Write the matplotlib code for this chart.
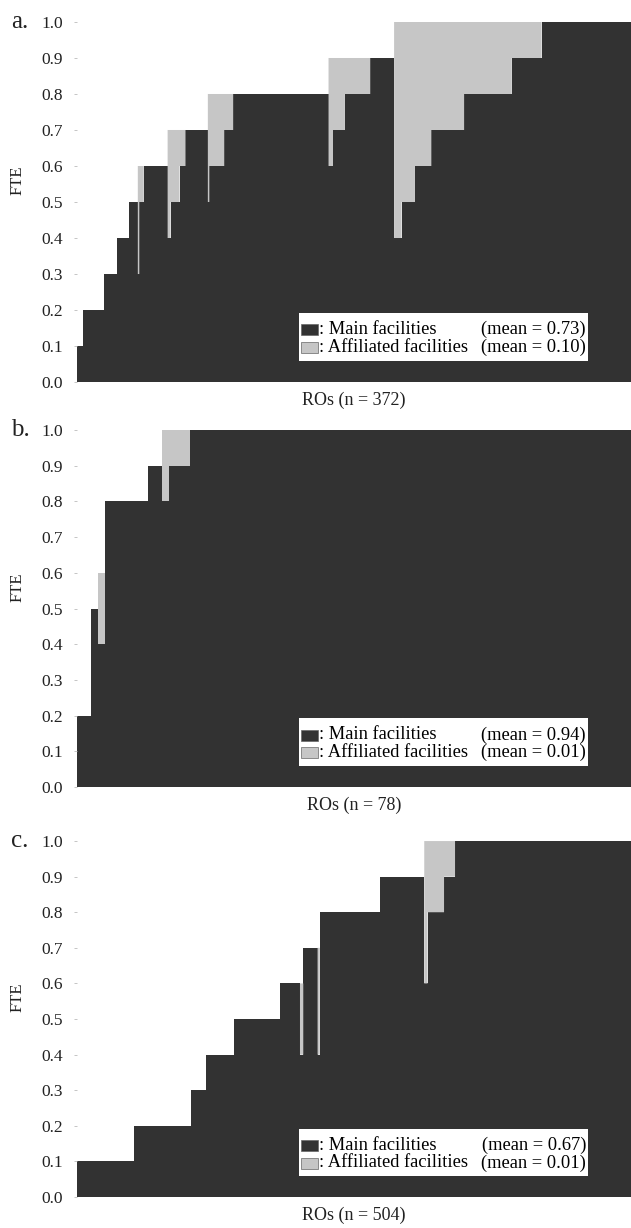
import matplotlib
matplotlib.use('Agg')
import matplotlib.pyplot as plt
from matplotlib.patches import Rectangle
import numpy as np

plt.rcParams['font.family'] = ['Liberation Serif', 'DejaVu Serif']

# ROs sorted by FTE, as runs: number of ROs, main FTE, affiliated FTE
n_a = [4, 14, 9, 8, 6, 1, 3, 16, 2, 6, 4, 15, 1, 10, 6, 64, 3, 8, 17, 16, 5, 9, 11, 22, 32, 20, 60]
main_a = [0.1, 0.2, 0.3, 0.4, 0.5, 0.3, 0.5, 0.6, 0.4, 0.5, 0.6, 0.7, 0.5, 0.6, 0.7, 0.8,
          0.6, 0.7, 0.8, 0.9, 0.4, 0.5, 0.6, 0.7, 0.8, 0.9, 1.0]
aff_a = [0, 0, 0, 0, 0, 0.3, 0.1, 0, 0.3, 0.2, 0.1, 0, 0.3, 0.2, 0.1, 0,
         0.3, 0.2, 0.1, 0, 0.6, 0.5, 0.4, 0.3, 0.2, 0.1, 0]

n_b = [2, 1, 1, 6, 2, 1, 3, 62]
main_b = [0.2, 0.5, 0.4, 0.8, 0.9, 0.8, 0.9, 1.0]
aff_b = [0, 0, 0.2, 0, 0, 0.2, 0.1, 0]

n_c = [52, 52, 14, 25, 42, 18, 3, 13, 2, 55, 40, 3, 15, 10, 160]
main_c = [0.1, 0.2, 0.3, 0.4, 0.5, 0.6, 0.4, 0.7, 0.4, 0.8, 0.9, 0.6, 0.8, 0.9, 1.0]
aff_c = [0, 0, 0, 0, 0, 0, 0.2, 0, 0.3, 0, 0, 0.4, 0.2, 0.1, 0]

panel_labels = ['a.', 'b.', 'c.']
mean_main = [0.73, 0.94, 0.67]
mean_aff = [0.10, 0.01, 0.01]
yticks = [0.0, 0.1, 0.2, 0.3, 0.4, 0.5, 0.6, 0.7, 0.8, 0.9, 1.0]

DARK = '#323232'
LIGHT = '#c6c6c6'

fig = plt.figure(figsize=(6.31, 12.28), dpi=100)
# axes boxes in figure fractions (left, bottom, width, height)
boxes = [[0.1216, 0.6889, 0.8784, 0.2932],
         [0.1216, 0.3591, 0.8784, 0.2907],
         [0.1216, 0.0252, 0.8784, 0.2899]]

data = [(n_a, main_a, aff_a), (n_b, main_b, aff_b), (n_c, main_c, aff_c)]

for k in range(3):
    counts, mains, affs = data[k]
    main = np.repeat(mains, counts)
    aff = np.repeat(affs, counts)
    n = len(main)
    edges = np.arange(n + 1)

    ax = fig.add_axes(boxes[k])
    ax.stairs(main, edges, baseline=0, fill=True, color=DARK, linewidth=0)
    ax.stairs(main + aff, edges, baseline=main, fill=True, color=LIGHT, linewidth=0)

    ax.set_xlim(0, n)
    ax.set_ylim(0, 1.0)
    for s in ax.spines.values():
        s.set_visible(False)
    ax.set_xticks([])
    ax.set_yticks(yticks)
    ax.set_yticklabels(['%.1f' % t for t in yticks])
    ax.tick_params(axis='y', length=2, width=0.6, color='#bbbbbb', pad=8,
                   labelsize=12.5, labelcolor='#222222')

    ax.text(-0.106, 0.56, 'FTE', transform=ax.transAxes, rotation=90,
            ha='center', va='center', fontsize=12, color='#222222')
    ax.text(-0.1185, 1.0, panel_labels[k], transform=ax.transAxes,
            ha='left', va='center', fontsize=18, color='#222222')
    ax.text(0.5, -0.052, 'ROs (n = %d)' % n, transform=ax.transAxes,
            ha='center', va='center', fontsize=13, color='#222222')

    # legend box drawn by hand
    ax.add_patch(Rectangle((0.401, 0.058), 0.521, 0.134, transform=ax.transAxes,
                           facecolor='white', edgecolor='none', zorder=5))
    rows = [(0.146, DARK, ': Main facilities', mean_main[k]),
            (0.096, LIGHT, ': Affiliated facilities', mean_aff[k])]
    for yc, col, lab, m in rows:
        ax.add_patch(Rectangle((0.404, yc - 0.016), 0.032, 0.031, transform=ax.transAxes,
                               facecolor=col, edgecolor='#666666', linewidth=0.5, zorder=6))
        ax.text(0.437, yc, lab, transform=ax.transAxes, ha='left', va='center',
                fontsize=13.3, zorder=7)
        ax.text(0.919, yc, '(mean = %.2f)' % m, transform=ax.transAxes, ha='right',
                va='center', fontsize=13.3, zorder=7)

fig.savefig('out.png', dpi=100)
